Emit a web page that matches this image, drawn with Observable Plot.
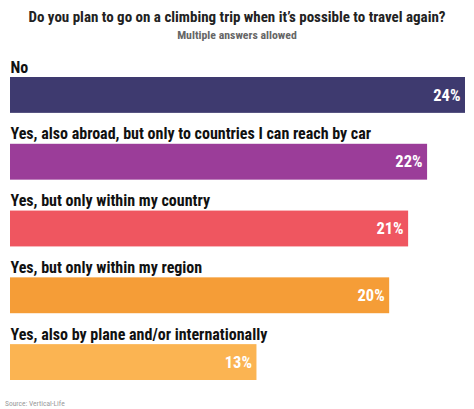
<!DOCTYPE html>
<html>
<head>
<meta charset="utf-8">
<script src="https://cdn.jsdelivr.net/npm/d3@7"></script>
<script src="https://cdn.jsdelivr.net/npm/@observablehq/plot@0.6"></script>
<style>
  html, body { margin: 0; padding: 0; background: #fff; }
  body { width: 474px; height: 409px; overflow: hidden; font-family: 'Roboto Condensed', 'Liberation Sans Narrow', 'DejaVu Sans Condensed', sans-serif; }
  #title { position: absolute; left: 0; top: 8px; width: 474px; text-align: center; font-size: 15px; font-weight: bold; color: #222; line-height: 18px; }
  #subtitle { position: absolute; left: 0; top: 28px; width: 474px; text-align: center; font-size: 11.8px; font-weight: bold; color: #666; line-height: 14px; }
  #chart { position: absolute; left: 0; top: 45px; }
  #source { position: absolute; left: 5px; top: 399px; font-size: 7.5px; color: #999; line-height: 10px; }
</style>
</head>
<body>
<div id="title">Do you plan to go on a climbing trip when it’s possible to travel again?</div>
<div id="subtitle">Multiple answers allowed</div>
<div id="chart"></div>
<div id="source">Source: Vertical-Life</div>
<script>
const categories = [
  "No",
  "Yes, also abroad, but only to countries I can reach by car",
  "Yes, but only within my country",
  "Yes, but only within my region",
  "Yes, also by plane and/or internationally"
];
const values = [24, 22, 21, 20, 13];
const colors = ["#3e3a6f", "#9b3d99", "#ef5660", "#f59d37", "#fbb452"];

const data = categories.map((c, i) => ({category: c, value: values[i], color: colors[i]}));
const font = "'Roboto Condensed', 'Liberation Sans Narrow', 'DejaVu Sans Condensed', sans-serif";

const chart = Plot.plot({
  width: 474,
  height: 345,
  margin: 0,
  style: {fontFamily: font, background: "transparent"},
  x: {domain: [0, 24], range: [10, 465], axis: null},
  y: {type: "band", domain: categories, range: [32, 335], paddingInner: 0.463, paddingOuter: 0, round: false, axis: null},
  color: {type: "identity"},
  marks: [
    Plot.barX(data, {x: "value", y: "category", fill: "color"}),
    Plot.text(data, {x: 0, y: "category", text: "category", textAnchor: "start", dy: -28, fontSize: 16, fontWeight: "bold", fill: "#111"}),
    Plot.text(data, {x: "value", y: "category", text: d => d.value + "%", textAnchor: "end", dx: -5, fontSize: 16.5, fontWeight: "bold", fill: "white"})
  ]
});
document.getElementById("chart").appendChild(chart);
</script>
</body>
</html>
